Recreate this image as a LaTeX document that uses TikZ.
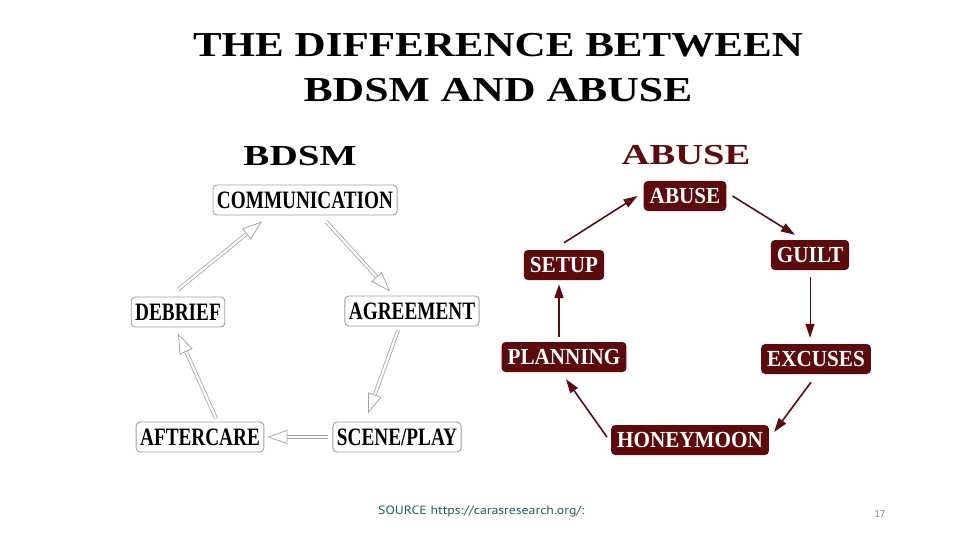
\documentclass[tikz,border=0pt]{standalone}
\usepackage{fontspec}
\usepackage{graphicx}
\setmainfont{Liberation Serif}
\newfontfamily\notefont{PT Sans}
\usetikzlibrary{arrows.meta}
\definecolor{abusered}{HTML}{5C0A0C}
\definecolor{noteteal}{HTML}{1F5E5E}
\newcommand\narrow[2]{\scalebox{#1}[1]{#2}}
\tikzset{
 bdsmbox/.style={draw=gray!75,line width=0.9pt,fill=white,rounded corners=4pt,
   minimum height=30pt,inner xsep=4pt,inner ysep=0pt,font=\bfseries\fontsize{25}{25}\selectfont},
 abusebox/.style={fill=abusered,text=white,rounded corners=4pt,
   minimum height=30pt,inner xsep=6pt,inner ysep=0pt,font=\bfseries\fontsize{23}{23}\selectfont},
 hollow/.style={draw=gray!70,line width=0.8pt,double=white,double distance=2.2pt,
   -{Triangle[open,length=20pt,width=14pt,fill=white]}},
 redarrow/.style={abusered,line width=1.6pt,-{Triangle[length=14pt,width=9pt]}}
}
\begin{document}
\begin{tikzpicture}[x=1pt,y=-1pt]
 \useasboundingbox (0,0) rectangle (960,540);
 % titles
 \node[font=\bfseries\fontsize{35}{35}\selectfont] (title1) at (498,45) {\narrow{1.23}{THE DIFFERENCE BETWEEN}};
 \node[font=\bfseries\fontsize{35}{35}\selectfont] (title2) at (498,90) {\narrow{1.25}{BDSM AND ABUSE}};
 \node[font=\bfseries\fontsize{29}{29}\selectfont] (hbdsm) at (300,156) {\narrow{1.35}{BDSM}};
 \node[font=\bfseries\fontsize{29}{29}\selectfont,text=abusered] (habuse) at (686,155) {\narrow{1.33}{ABUSE}};
 % BDSM cycle
 \foreach \n/\x/\y/\t in {comm/305/200/{COMMUNICATION}, agree/412/311/{AGREEMENT},
   scene/397/437/{SCENE/PLAY}, after/200/437/{AFTERCARE}, debrief/178/312/{DEBRIEF}}
  \node[bdsmbox] (\n) at (\x,\y) {\narrow{0.77}{\t}};
 \draw[hollow] ([xshift=21pt,yshift=-6pt]comm.south) -- ([xshift=-22pt,yshift=4pt]agree.north);
 \draw[hollow] ([xshift=-14pt,yshift=-4pt]agree.south) -- ([xshift=-29pt,yshift=8pt]scene.north);
 \draw[hollow,shorten <=4pt,shorten >=3pt] (scene.west) -- (after.east);
 \draw[hollow] ([xshift=16pt,yshift=3pt]after.north) -- ([yshift=-6pt]debrief.south);
 \draw[hollow] ([yshift=7pt]debrief.north) -- ([xshift=-43pt,yshift=-6pt]comm.south);
 % abuse cycle
 \foreach \n/\x/\y/\t in {abuse/685/196/ABUSE, guilt/810/255/GUILT, excuses/816/359/EXCUSES,
   honey/690/440/HONEYMOON, plan/564/357/PLANNING, setup/564/265/SETUP}
  \node[abusebox] (\n) at (\x,\y) {\narrow{0.92}{\t}};
 \draw[redarrow] ([xshift=6pt]abuse.east) -- ([xshift=-15pt,yshift=5pt]guilt.north);
 \draw[redarrow,line width=1pt] ([yshift=-7pt]guilt.south) -- ([xshift=-6pt,yshift=6pt]excuses.north);
 \draw[redarrow] ([xshift=-5pt,yshift=-8pt]excuses.south) -- ([xshift=5pt,yshift=8pt]honey.east);
 \draw[redarrow] ([xshift=-4pt,yshift=3pt]honey.west) -- ([xshift=2pt,yshift=-7pt]plan.south);
 \draw[redarrow] ([xshift=-5pt,yshift=5pt]plan.north) -- ([xshift=-5pt,yshift=-4pt]setup.south);
 \draw[redarrow] ([yshift=7pt]setup.north) -- ([xshift=-6pt]abuse.west);
 % footer
 \node[anchor=west,font=\notefont\fontsize{12}{12}\selectfont,text=noteteal,inner sep=0pt] (src) at (378,511) {\narrow{1.15}{SOURCE https://carasresearch.org/:}};
 \node[font=\notefont\fontsize{10}{10}\selectfont,text=gray,inner sep=0pt] (page) at (880,514) {17};
\end{tikzpicture}
\end{document}
